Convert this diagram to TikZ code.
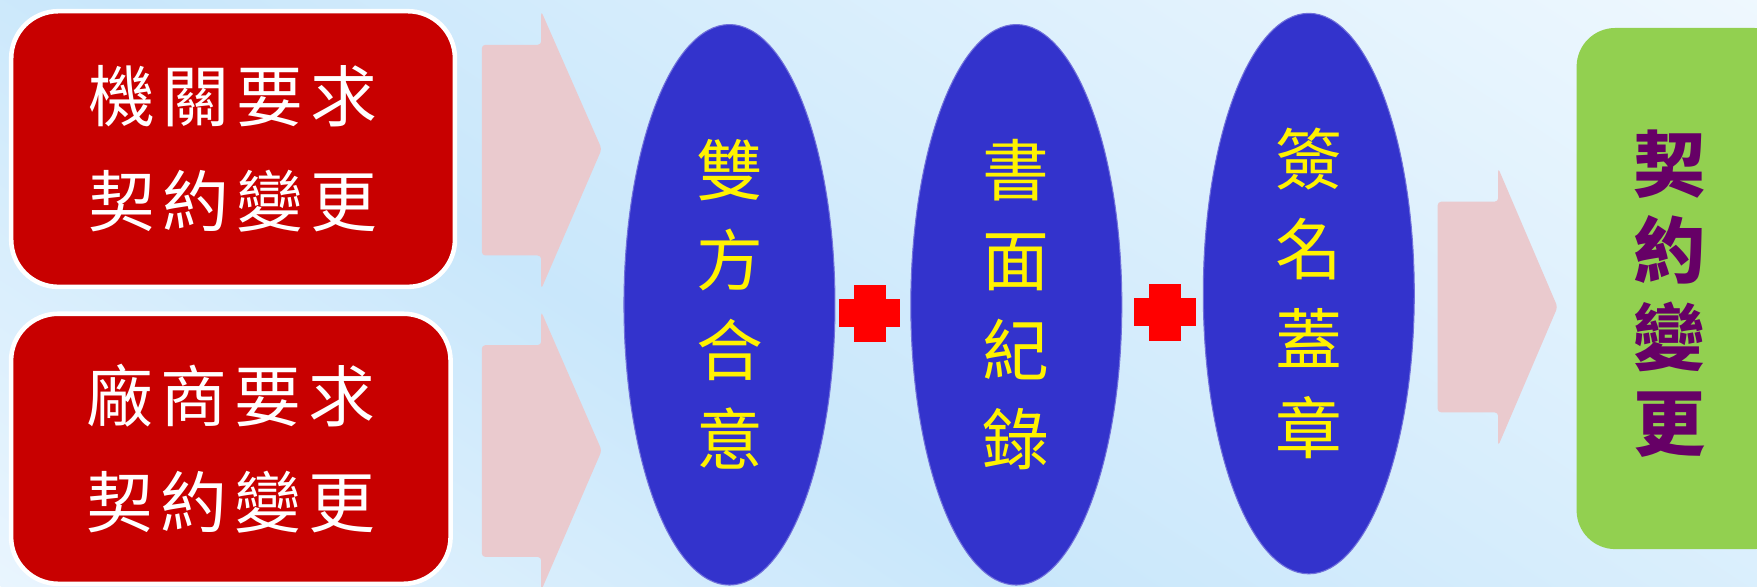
\documentclass[tikz,border=0pt]{standalone}
\usepackage{fontspec}
\usetikzlibrary{shapes.geometric}
\newfontfamily\cjk{Noto Sans CJK TC}
\definecolor{bgblue}{HTML}{C9E7FB}
\definecolor{bglight}{HTML}{E9F5FE}
\definecolor{bgwhite}{HTML}{F6FBFF}
\definecolor{boxred}{HTML}{C80000}
\definecolor{ellblue}{HTML}{3333CC}
\definecolor{plusred}{HTML}{FF0000}
\definecolor{arrowpink}{HTML}{EACACE}
\definecolor{boxgreen}{HTML}{92D050}
\definecolor{txtpurple}{HTML}{660066}
\pgfdeclarehorizontalshading{bgshade}{100bp}{color(0bp)=(bglight); color(25bp)=(bglight); color(42bp)=(bgblue); color(75bp)=(bgwhite); color(100bp)=(bgwhite)}
\newcommand\cg{\hspace{2pt}}
\begin{document}
\begin{tikzpicture}[x=0.011205cm,y=-0.011205cm,
  redbox/.style={draw=white,line width=1.3pt,fill=boxred,rounded corners=13.4pt,
    inner sep=0pt,text=white,align=center,font=\cjk\fontsize{19}{30}\selectfont},
  ellnode/.style={ellipse,fill=ellblue,draw=ellblue!70!white,line width=0.3pt,inner sep=0pt,
    minimum width=60pt,minimum height=159.4pt,text=yellow,align=center,
    font=\cjk\fontsize{19}{25.5}\selectfont},
  greenbox/.style={fill=boxgreen,rounded corners=11pt,inner sep=0pt},
  bigarrow/.style={fill=arrowpink,rounded corners=1pt},
  plusbar/.style={fill=plusred}]
\useasboundingbox (0,0) rectangle (1568,523);
% background
\begin{scope}
\clip (0,0) rectangle (1568,523);
\fill[bgblue] (0,0) rectangle (1568,523);
\begin{scope}[transform canvas={shift={(0,523)},rotate=56.9}]
\shade[shading=bgshade] (0,-400) rectangle (1450,1400);
\end{scope}
\end{scope}
% red boxes
\node[redbox,minimum width=126.2pt,minimum height=78.4pt] (b1) at (208,133)
  {機\cg 關\cg 要\cg 求\\契\cg 約\cg 變\cg 更};
\node[redbox,minimum width=125pt,minimum height=76.8pt] (b2) at (206,400.5)
  {廠\cg 商\cg 要\cg 求\\契\cg 約\cg 變\cg 更};
% arrows
\fill[bigarrow] (430,40) -- (483,40) -- (483,10) -- (537,133) -- (483,258) -- (483,228) -- (430,228) -- cycle;
\fill[bigarrow] (430,308) -- (483,308) -- (483,278) -- (537,402) -- (483,527) -- (483,497) -- (430,497) -- cycle;
\fill[bigarrow] (1283,180) -- (1337,180) -- (1337,150) -- (1390,274) -- (1337,398) -- (1337,368) -- (1283,368) -- cycle;
% ellipses
\node[ellnode] (e1) at (651,272) {雙\\方\\合\\意};
\node[ellnode] (e2) at (907,272) {書\\面\\紀\\錄};
\node[ellnode] (e3) at (1168,262) {簽\\名\\蓋\\章};
% plus signs
\fill[plusbar] (749,267) rectangle (803,292);
\fill[plusbar] (762,254) rectangle (791,305);
\fill[plusbar] (1012,266) rectangle (1067,291);
\fill[plusbar] (1025,253) rectangle (1054,304);
% green box
\node[greenbox,minimum width=61.5pt,minimum height=148.2pt] (g) at (1503.5,257.5) {};
\node[text=txtpurple,align=center,font=\cjk\bfseries\fontsize{20.5}{24.5}\selectfont] (gt) at (1490,262)
  {契\\約\\變\\更};
\end{tikzpicture}
\end{document}
